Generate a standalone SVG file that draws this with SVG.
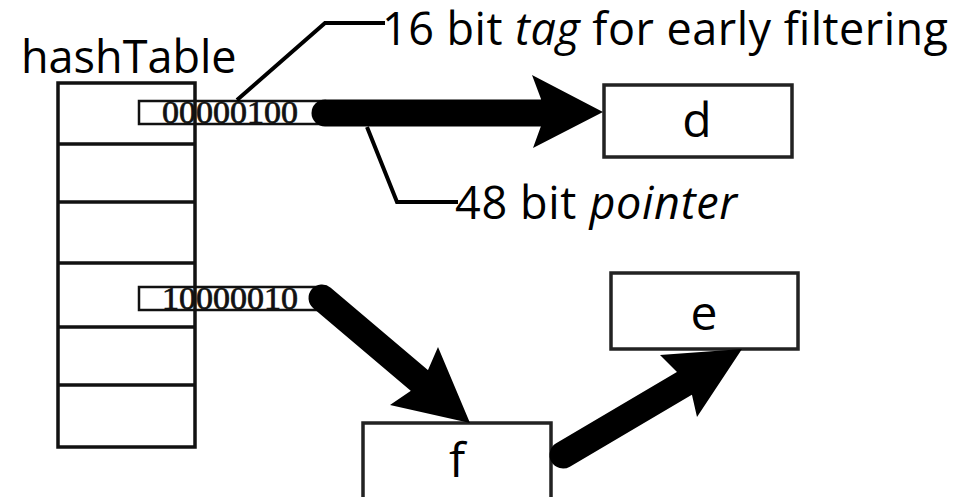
<svg xmlns="http://www.w3.org/2000/svg" width="954" height="497" viewBox="0 0 954 497">
  <style>
    .frame { fill: none; stroke: #111; stroke-width: 3.5; }
    .box { fill: #fff; stroke: #222; stroke-width: 3.5; }
    .tag { fill: none; stroke: #111; stroke-width: 2.5; }
    .bits { font-family: "Liberation Serif", "Times New Roman", serif; font-size: 31px; fill: #111; stroke: #111; stroke-width: 0.7; }
    .label { font-family: "Open Sans", "Liberation Sans", sans-serif; font-size: 45px; fill: #000; }
    .name { font-family: "Open Sans", "Liberation Sans", sans-serif; font-size: 48px; fill: #000; text-anchor: middle; }
    .leader { fill: none; stroke: #000; stroke-width: 4; stroke-linejoin: miter; }
    .shaft { fill: none; stroke: #000; stroke-width: 27; stroke-linecap: round; }
    .head { fill: #000; }
  </style>

  <!-- hash table: column of buckets -->
  <g id="hashTable">
    <text class="label" x="21" y="73" font-size="43">hashTable</text>
    <rect class="frame" x="58" y="83" width="137" height="364"/>
    <line class="frame" x1="58" y1="144" x2="195" y2="144"/>
    <line class="frame" x1="58" y1="202" x2="195" y2="202"/>
    <line class="frame" x1="58" y1="263" x2="195" y2="263"/>
    <line class="frame" x1="58" y1="327" x2="195" y2="327"/>
    <line class="frame" x1="58" y1="385" x2="195" y2="385"/>
  </g>

  <!-- tagged pointer entries -->
  <g id="tag1">
    <rect class="tag" x="139" y="101" width="186" height="23"/>
    <text class="bits" x="162" y="123" textLength="136" lengthAdjust="spacingAndGlyphs">00000100</text>
  </g>
  <g id="tag2">
    <rect class="tag" x="139" y="287" width="186" height="23"/>
    <text class="bits" x="162" y="309" textLength="136" lengthAdjust="spacingAndGlyphs">10000010</text>
  </g>

  <!-- entry nodes -->
  <g id="node-d">
    <rect class="box" x="604" y="85" width="188" height="72"/>
    <text class="name" x="697" y="137">d</text>
  </g>
  <g id="node-e">
    <rect class="box" x="611" y="273" width="187" height="76"/>
    <text class="name" x="704" y="330">e</text>
  </g>
  <g id="node-f">
    <rect class="box" x="363" y="423" width="188" height="90"/>
    <text class="name" x="457" y="477">f</text>
  </g>

  <!-- annotations -->
  <g id="annotations">
    <text class="label" x="382" y="45" textLength="566">16 bit <tspan font-style="italic">tag</tspan> for early filtering</text>
    <text class="label" x="455" y="219" textLength="282">48 bit <tspan font-style="italic">pointer</tspan></text>
    <polyline class="leader" points="237,100 325,23 385,23"/>
    <polyline class="leader" points="367,127 397,202 458,202"/>
  </g>

  <!-- pointer connectors -->
  <g id="connectors">
    <line class="shaft" x1="325" y1="113" x2="545" y2="113"/>
    <polygon class="head" points="603,112 532,75 541,99 541,126 533,148"/>

    <line class="shaft" x1="322" y1="298" x2="420" y2="381"/>
    <polygon class="head" points="470,423 438,347 428,370 412,390 390,405"/>

    <line class="shaft" x1="563" y1="455" x2="685" y2="383"/>
    <polygon class="head" points="742,349 660,355 677,372 692,395 697,417"/>
  </g>
</svg>
